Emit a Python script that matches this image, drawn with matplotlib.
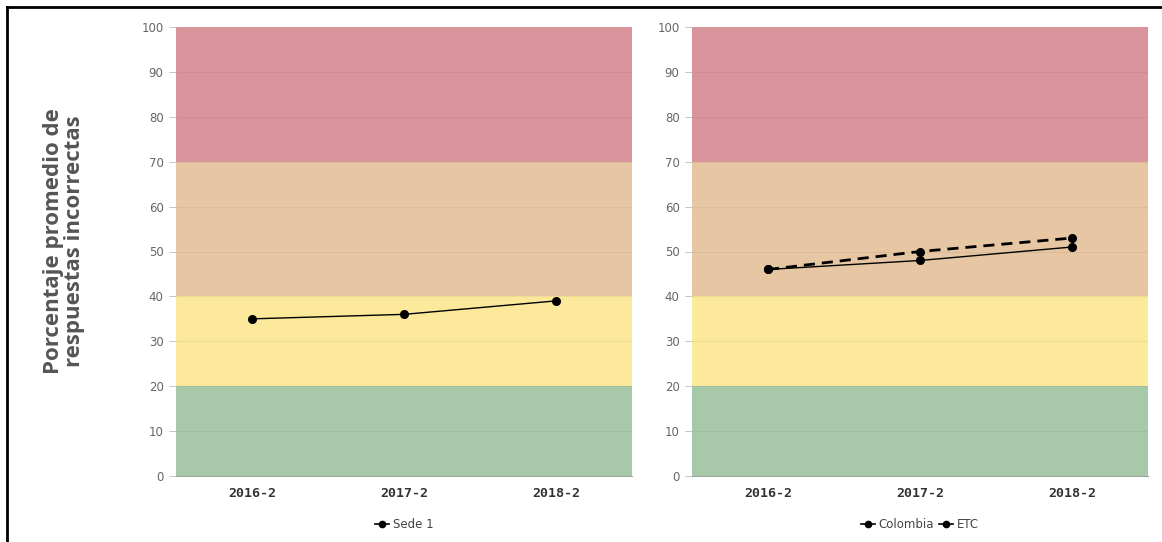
import matplotlib
matplotlib.use("Agg")
import matplotlib.pyplot as plt
from matplotlib.lines import Line2D

periods = ["2016-2", "2017-2", "2018-2"]
sede1 = [35, 36, 39]
colombia = [46, 48, 51]
etc = [46, 50, 53]
yticks = [0, 10, 20, 30, 40, 50, 60, 70, 80, 90, 100]

# performance bands (lower, upper, colour)
bands = [
    (0, 20, "#a7c9a9"),
    (20, 40, "#fce99b"),
    (40, 70, "#e6c6a3"),
    (70, 100, "#d9959b"),
]

fig = plt.figure(figsize=(11.62, 5.42), dpi=100)
fig.patch.set_facecolor("white")

ax_left = fig.add_axes([176 / 1162, 1 - 476 / 542, 456 / 1162, 449 / 542])
ax_right = fig.add_axes([692 / 1162, 1 - 476 / 542, 456 / 1162, 449 / 542])


def style_axes(ax):
    for lo, hi, col in bands:
        ax.axhspan(lo, hi, color=col, zorder=0, lw=0)
    for y in yticks[1:-1]:
        ax.axhline(y, color="#000000", alpha=0.05, lw=0.8, zorder=1)
    ax.set_xlim(-0.5, 2.5)
    ax.set_ylim(0, 100)
    ax.set_yticks(yticks)
    ax.set_yticklabels([str(v) for v in yticks], fontsize=8.5, color="#666666")
    ax.set_xticks(range(len(periods)))
    ax.set_xticklabels(periods, fontsize=9.5, fontweight="bold",
                       family="DejaVu Sans Mono", color="#333333")
    ax.tick_params(axis="y", length=5, width=0.6, color="#bbbbbb", pad=4)
    ax.tick_params(axis="x", length=0, pad=8)
    for side in ["top", "right", "left"]:
        ax.spines[side].set_visible(False)
    ax.spines["bottom"].set_color("#9aa89a")
    ax.spines["bottom"].set_linewidth(0.8)


style_axes(ax_left)
style_axes(ax_right)

x = range(len(periods))
ax_left.plot(x, sede1, color="black", lw=1.0, marker="o", ms=5.5, zorder=3)
ax_right.plot(x, colombia, color="black", lw=1.0, marker="o", ms=5.5, zorder=3)
ax_right.plot(x, etc, color="black", lw=2.0, ls=(0, (4, 2.5)), marker="o", ms=5.5, zorder=3)

h_sede = Line2D([], [], color="black", lw=1.2, marker="o", ms=4.5)
ax_left.legend([h_sede], ["Sede 1"], loc="upper center", bbox_to_anchor=(0.5, -0.07),
               frameon=False, fontsize=8.5, handlelength=1.2, handletextpad=0.3,
               labelcolor="#444444")
h_col = Line2D([], [], color="black", lw=1.2, marker="o", ms=4.5)
h_etc = Line2D([], [], color="black", lw=1.2, marker="o", ms=4.5)
ax_right.legend([h_col, h_etc], ["Colombia", "ETC"], loc="upper center",
                bbox_to_anchor=(0.5, -0.07), frameon=False, fontsize=8.5, ncol=2,
                handlelength=1.2, handletextpad=0.3, columnspacing=0.4,
                labelcolor="#444444")

fig.text(64 / 1162, 1 - 241 / 542, "Porcentaje promedio de\nrespuestas incorrectas",
         rotation=90, ha="center", va="center", fontsize=16, fontweight="bold",
         color="#555555", family="Open Sans", linespacing=0.95)

# frame lines along the top and left of the figure
fig.add_artist(Line2D([7 / 1162, 1.0], [1 - 7 / 542, 1 - 7 / 542],
                      transform=fig.transFigure, color="black", lw=2))
fig.add_artist(Line2D([7 / 1162, 7 / 1162], [0, 1 - 7 / 542],
                      transform=fig.transFigure, color="black", lw=2))

fig.savefig("out.png", dpi=100)
